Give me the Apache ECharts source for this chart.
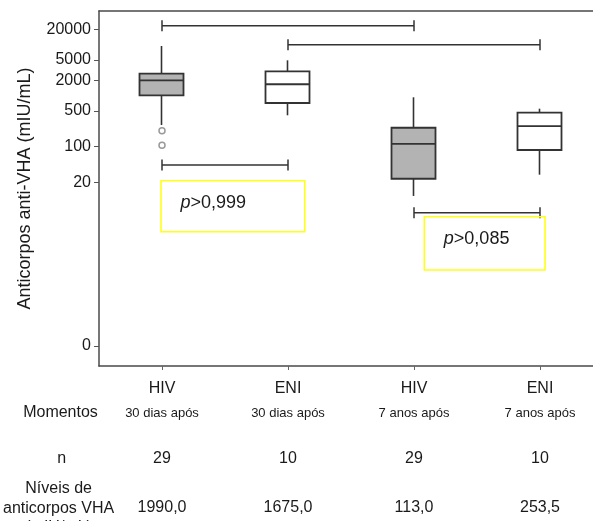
<!DOCTYPE html>
<html><head><meta charset="utf-8">
<script src="https://cdn.jsdelivr.net/npm/echarts@6/dist/echarts.min.js"></script>
<style>html,body{margin:0;padding:0;background:#fff;overflow:hidden}#c{width:593px;height:521px}</style>
</head><body><div id="c"></div>
<script>
// ---- data ----
const groups = ['HIV', 'ENI', 'HIV', 'ENI'];
const moments = ['30 dias após', '30 dias após', '7 anos após', '7 anos após'];
const nValues = [29, 10, 29, 10];
const medians = [1990, 1675, 113, 253.5];
const whiskerLow = [266, 412, 10.8, 28.2];
const q1 = [1016, 718, 23.5, 86];
const q3 = [2694, 3000, 235, 463];
const whiskerHigh = [9420, 4930, 929, 555];
const outliers = [[0, 205], [0, 106]];
const yTickValues = [0, 20, 100, 500, 2000, 5000, 20000];
const pLabels = ['p>0,999', 'p>0,085'];

// ---- axis / annotation configuration ----
const ZERO_AT = 0.0123;          // where the "0" tick sits on the log axis
const Y_MIN = 0.005, Y_MAX = 45700;
const bracketSpec = [[0, 2, 23500], [1, 3, 10000], [0, 1, 43.7], [2, 3, 5.07]];
// [x from (category units), x to, y top, y bottom]
const pBoxSpec = [[-0.008, 1.133, 21.5, 2.15], [2.082, 3.04, 4.23, 0.381]];

const boxFill = ['#b3b3b3', '#ffffff', '#b3b3b3', '#ffffff'];
const FONT = '"Liberation Sans", Arial, sans-serif';
const FRAME = {color: '#4a4a4a', width: 1.5};

const boxData = groups.map((g, i) => [i, whiskerLow[i], q1[i], medians[i], q3[i], whiskerHigh[i]]);
const tickPositions = yTickValues.map(v => v === 0 ? ZERO_AT : v);
const fmtNum = v => v.toFixed(1).replace('.', ',');

const chart = echarts.init(document.getElementById('c'), null, {renderer: 'canvas'});
const catAxisBase = {
  type: 'category', data: groups, position: 'bottom', gridIndex: 0,
  axisLine: {show: false}, axisTick: {show: false}, splitLine: {show: false}, splitArea: {show: false}
};
chart.setOption({
  animation: false,
  backgroundColor: '#fff',
  textStyle: {fontFamily: FONT},
  grid: {left: 99, right: -10, top: 11, bottom: 155, outerBoundsMode: 'none', containLabel: false, show: false},
  xAxis: [
    Object.assign({}, catAxisBase, {
      axisLine: {show: true, lineStyle: FRAME},
      axisTick: {show: true, alignWithLabel: true, length: 4, lineStyle: {color: '#666'}},
      axisLabel: {
        interval: 0, margin: 10, color: '#1a1a1a',
        formatter: (v, i) => '{a|' + groups[i] + '}\n{b|' + moments[i] + '}',
        rich: {a: {fontSize: 16, lineHeight: 25, fontFamily: FONT, color: '#1a1a1a'},
               b: {fontSize: 13, lineHeight: 25, fontFamily: FONT, color: '#1a1a1a'}}
      }
    }),
    Object.assign({}, catAxisBase, {
      axisLabel: {interval: 0, margin: 83, fontSize: 16, lineHeight: 20, color: '#1a1a1a',
        formatter: (v, i) => String(nValues[i])}
    }),
    Object.assign({}, catAxisBase, {
      axisLabel: {interval: 0, margin: 131.5, fontSize: 16, lineHeight: 20, color: '#1a1a1a',
        formatter: (v, i) => fmtNum(medians[i])}
    }),
    Object.assign({}, catAxisBase, {
      position: 'top', axisLine: {show: true, lineStyle: FRAME}, axisLabel: {show: false}
    })
  ],
  yAxis: {
    type: 'log', logBase: 10, min: Y_MIN, max: Y_MAX,
    axisLine: {show: true, lineStyle: FRAME},
    splitLine: {show: false}, splitArea: {show: false}, minorSplitLine: {show: false}, minorTick: {show: false},
    axisTick: {show: true, length: 5, customValues: tickPositions, lineStyle: {color: '#555'}},
    axisLabel: {customValues: tickPositions, margin: 8, fontSize: 16, color: '#1a1a1a',
      formatter: v => v < 1 ? '0' : String(Math.round(v))},
    name: 'Anticorpos anti-VHA (mIU/mL)', nameLocation: 'middle', nameRotate: 90, nameGap: 65,
    nameTextStyle: {fontSize: 18, color: '#1a1a1a', fontFamily: FONT}
  },
  graphic: [
    {type: 'text', x: 60.5, y: 413, style: {text: 'Momentos', fontSize: 16, fontFamily: FONT, fill: '#1a1a1a', align: 'center', verticalAlign: 'middle'}},
    {type: 'text', x: 61.6, y: 459, style: {text: 'n', fontSize: 16, fontFamily: FONT, fill: '#1a1a1a', align: 'center', verticalAlign: 'middle'}},
    {type: 'text', x: 58.6, y: 508.5, style: {text: 'Níveis de\nanticorpos VHA\n(mIU/mL)', fontSize: 16, lineHeight: 19.5, fontFamily: FONT, fill: '#1a1a1a', align: 'center', verticalAlign: 'middle'}}
  ],
  series: [
    {
      type: 'custom', xAxisIndex: 0, data: boxData,
      encode: {x: 0, y: [1, 2, 3, 4, 5]},
      renderItem: (params, api) => {
        const i = api.value(0);
        const lo = api.coord([i, api.value(1)]);
        const a = api.coord([i, api.value(2)]);
        const m = api.coord([i, api.value(3)]);
        const b = api.coord([i, api.value(4)]);
        const hi = api.coord([i, api.value(5)]);
        const x = lo[0] - 0.5, w = 44;
        const st = {stroke: '#333', lineWidth: 1.6};
        return {type: 'group', children: [
          {type: 'line', shape: {x1: x, y1: lo[1], x2: x, y2: a[1]}, style: st},
          {type: 'line', shape: {x1: x, y1: b[1], x2: x, y2: hi[1]}, style: st},
          {type: 'rect', shape: {x: x - w / 2, y: b[1], width: w, height: a[1] - b[1]},
            style: {fill: boxFill[i], stroke: '#333', lineWidth: 1.8}},
          {type: 'line', shape: {x1: x - w / 2, y1: m[1], x2: x + w / 2, y2: m[1]}, style: {stroke: '#333', lineWidth: 1.8}}
        ]};
      }
    },
    {
      type: 'scatter', xAxisIndex: 0, data: outliers, symbol: 'circle', symbolSize: 6,
      itemStyle: {color: '#fff', borderColor: '#808080', borderWidth: 1.5}
    },
    {
      type: 'custom', xAxisIndex: 0, data: bracketSpec, encode: {x: [0, 1], y: 2},
      renderItem: (params, api) => {
        const p1 = api.coord([api.value(0), api.value(2)]);
        const p2 = api.coord([api.value(1), api.value(2)]);
        const st = {stroke: '#333', lineWidth: 1.5};
        return {type: 'group', children: [
          {type: 'line', shape: {x1: p1[0], y1: p1[1], x2: p2[0], y2: p2[1]}, style: st},
          {type: 'line', shape: {x1: p1[0], y1: p1[1] - 5.5, x2: p1[0], y2: p1[1] + 5.5}, style: st},
          {type: 'line', shape: {x1: p2[0], y1: p2[1] - 5.5, x2: p2[0], y2: p2[1] + 5.5}, style: st}
        ]};
      }
    },
    {
      type: 'custom', xAxisIndex: 0, data: pBoxSpec.map((s, k) => s.concat([k])),
      encode: {y: [2, 3]},
      renderItem: (params, api) => {
        const band = api.size([1, 0])[0];
        const origin = api.coord([0, api.value(2)])[0];
        const x0 = origin + api.value(0) * band;
        const x1 = origin + api.value(1) * band;
        const yTop = api.coord([0, api.value(2)])[1];
        const yBot = api.coord([0, api.value(3)])[1];
        const k = api.value(4);
        const txt = pLabels[k];
        return {type: 'group', children: [
          {type: 'rect', shape: {x: x0, y: yTop, width: x1 - x0, height: yBot - yTop},
            style: {fill: 'none', stroke: '#ffff1a', lineWidth: 1.6}},
          {type: 'text', x: x0 + 19.5, y: yTop + 22,
            style: {text: '{i|' + txt.charAt(0) + '}{n|' + txt.slice(1) + '}', verticalAlign: 'middle', align: 'left',
              rich: {i: {fontSize: 18, fontStyle: 'italic', fontFamily: FONT, fill: '#1a1a1a', color: '#1a1a1a'},
                     n: {fontSize: 18, fontFamily: FONT, fill: '#1a1a1a', color: '#1a1a1a'}}}}
        ]};
      }
    },
    {
      // keeps the plot open on its right side, as in the original figure
      type: 'custom', xAxisIndex: 0, z: 100, silent: true, data: [[0, Y_MAX, Y_MIN]],
      encode: {x: 0, y: [1, 2]},
      renderItem: (params, api) => {
        const top = api.coord([0, api.value(1)])[1];
        const bot = api.coord([0, api.value(2)])[1];
        return {type: 'rect', shape: {x: api.getWidth() - 7, y: top + 1.5, width: 20, height: bot - top - 3},
          style: {fill: '#ffffff'}};
      }
    }
  ]
});
</script></body></html>
